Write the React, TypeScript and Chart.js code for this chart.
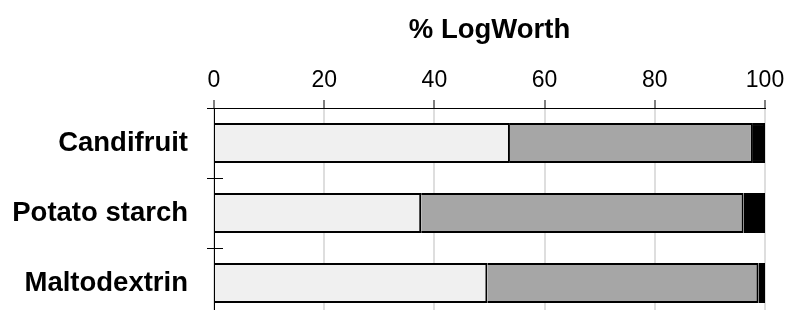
import React, { useEffect, useRef } from "react";
import { Chart, registerables } from "chart.js";

Chart.register(...registerables);

const categories = ["Candifruit", "Potato starch", "Maltodextrin"];
const lightValues = [53.7, 37.6, 49.6];
const grayValues = [44.1, 58.5, 49.2];
const blackValues = [2.2, 3.9, 1.2];
const axisTitle = "% LogWorth";
const xMin = 0;
const xMax = 100;
const xStep = 20;

const FONT = "'Liberation Sans', Arial, sans-serif";

const innerTicks = {
  id: "innerTicks",
  afterDraw(chart: any) {
    const y = chart.scales.y;
    const { ctx, chartArea } = chart;
    const n = y.ticks.length;
    const h = (chartArea.bottom - chartArea.top) / n;
    ctx.save();
    ctx.strokeStyle = "#000";
    ctx.lineWidth = 1;
    for (let i = 0; i <= n; i++) {
      const py = Math.round(chartArea.top + i * h) + 0.5;
      ctx.beginPath();
      ctx.moveTo(chartArea.left, py);
      ctx.lineTo(chartArea.left + 9, py);
      ctx.stroke();
    }
    ctx.restore();
  },
};

export default function App() {
  const ref = useRef<HTMLCanvasElement | null>(null);
  useEffect(() => {
    if (!ref.current) return;
    const chart = new Chart(ref.current, {
      type: "bar",
      data: {
        labels: categories,
        datasets: [
          { data: lightValues, backgroundColor: "#f0f0f0" },
          { data: grayValues, backgroundColor: "#a6a6a6" },
          { data: blackValues, backgroundColor: "#000000" },
        ].map((d) => ({
          ...d,
          borderColor: "#000",
          borderWidth: 2,
          borderSkipped: "start",
          inflateAmount: 0,
          barPercentage: 0.57,
          categoryPercentage: 1,
        })),
      },
      options: {
        indexAxis: "y",
        responsive: false,
        animation: false,
        layout: { padding: { left: 0, top: 0, right: 26, bottom: 2 } },
        plugins: { legend: { display: false }, tooltip: { enabled: false } },
        scales: {
          x: {
            type: "linear",
            position: "top",
            stacked: true,
            min: xMin,
            max: xMax,
            ticks: {
              stepSize: xStep,
              color: "#000",
              padding: 6,
              font: { family: FONT, size: 23 },
            },
            grid: {
              color: "#dedede",
              lineWidth: 2,
              tickLength: 8,
              tickColor: "#000",
              tickWidth: 1,
            },
            border: { color: "#000", width: 1 },
            title: {
              display: true,
              text: axisTitle,
              color: "#000",
              padding: { top: 14, bottom: 0 },
              font: { family: FONT, size: 27.5, weight: "bold" },
            },
            afterFit: (s: any) => {
              s.height = 108;
            },
          },
          y: {
            type: "category",
            stacked: true,
            ticks: {
              color: "#000",
              padding: 19,
              font: { family: FONT, size: 27.5, weight: "bold" },
            },
            grid: {
              drawOnChartArea: false,
              offset: true,
              tickLength: 7,
              tickColor: "#000",
              tickWidth: 1,
            },
            border: { color: "#000", width: 1 },
            afterFit: (s: any) => {
              s.width = 214;
              s.paddingTop = 0;
              s.paddingBottom = 0;
            },
          },
        },
      },
      plugins: [innerTicks],
    });
    return () => chart.destroy();
  }, []);
  return (
    <div
      style={{
        position: "fixed",
        left: 0,
        top: 0,
        width: 791,
        height: 310,
        overflow: "hidden",
        background: "#fff",
      }}
    >
      <canvas ref={ref} width={791} height={320} style={{ display: "block" }} />
    </div>
  );
}
